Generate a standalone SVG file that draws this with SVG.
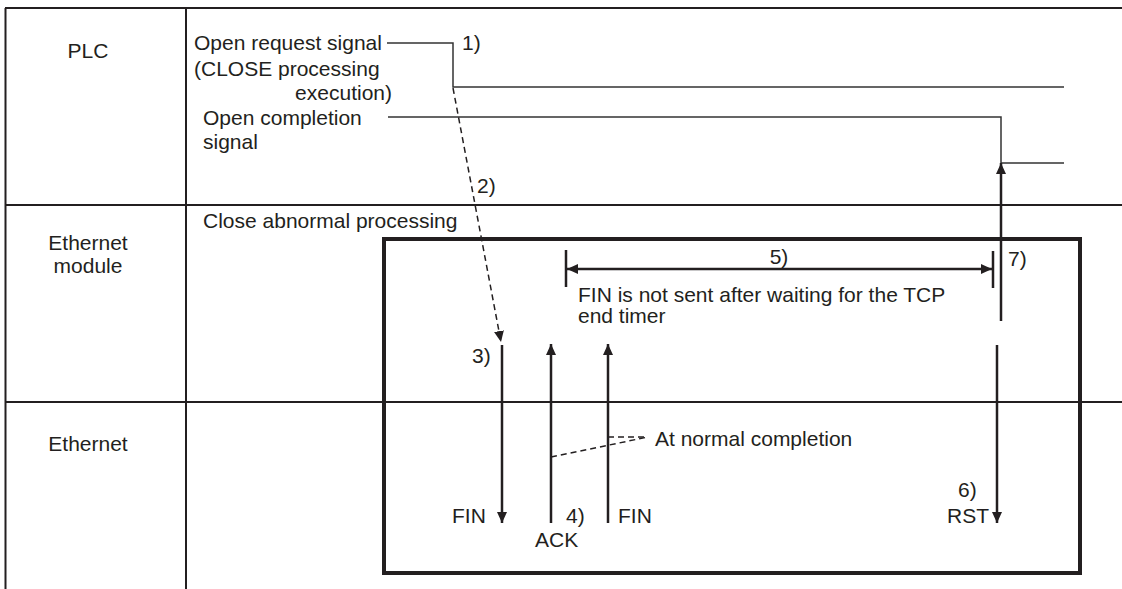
<svg xmlns="http://www.w3.org/2000/svg" width="1122" height="589" viewBox="0 0 1122 589">
<style>
text{font-family:"Liberation Sans",Arial,sans-serif;font-size:21px;fill:#231f20}
.grid{stroke:#231f20;stroke-width:2;fill:none}
.sig{stroke:#333;stroke-width:1.5;fill:none}
.arr{stroke:#231f20;stroke-width:2.5;fill:none}
.dash{stroke:#231f20;stroke-width:1.5;fill:none;stroke-dasharray:6 4}
.box{stroke:#231f20;stroke-width:4;fill:none}
.mid{text-anchor:middle}
.end{text-anchor:end}
</style>
<defs>
<marker id="ah" markerUnits="userSpaceOnUse" markerWidth="12" markerHeight="12" viewBox="0 0 12 12" refX="11" refY="6" orient="auto">
<path d="M0,1 L11,6 L0,11 z" fill="#231f20"/>
</marker>
</defs>
<rect width="1122" height="589" fill="#fff"/>
<g id="grid">
<line class="grid" x1="5" y1="8" x2="1122" y2="8"/>
<line class="grid" x1="5.5" y1="8" x2="5.5" y2="589"/>
<line class="grid" x1="186" y1="8" x2="186" y2="589"/>
<line class="grid" x1="5" y1="205" x2="1122" y2="205"/>
<line class="grid" x1="5" y1="402" x2="1122" y2="402"/>
</g>
<g id="lane-plc"><text class="mid" x="88" y="58">PLC</text></g>
<g id="lane-module"><text class="mid" x="88" y="250">Ethernet</text><text class="mid" x="88" y="273">module</text></g>
<g id="lane-ethernet"><text class="mid" x="88" y="451">Ethernet</text></g>
<g id="open-request">
<text x="194" y="50">Open request signal</text>
<text x="194" y="76">(CLOSE processing</text>
<text class="end" x="392" y="100">execution)</text>
<text x="462" y="50">1)</text>
</g>
<g id="open-completion">
<text x="203" y="125">Open completion</text>
<text x="203" y="149">signal</text>
</g>
<g id="close-box">
<rect class="box" x="384" y="239" width="696" height="334"/>
<text x="203" y="228">Close abnormal processing</text>
</g>
<g id="labels">
<text x="477" y="193">2)</text>
<text x="472" y="363">3)</text>
<text x="452" y="523">FIN</text>
<text x="566" y="523">4)</text>
<text x="535" y="547">ACK</text>
<text x="618" y="523">FIN</text>
<text class="mid" x="779" y="264">5)</text>
<text x="578" y="302">FIN is not sent after waiting for the TCP</text>
<text x="578" y="323">end timer</text>
<text x="655" y="446">At normal completion</text>
<text x="958" y="497">6)</text>
<text x="947" y="523">RST</text>
<text x="1008" y="266">7)</text>
</g>
<g id="connectors">
<polyline class="sig" points="387,43 453,43 453,87 1064,87"/>
<polyline class="sig" points="388,117 1001,117 1001,163 1064,163"/>
<line class="dash" x1="453" y1="88" x2="501" y2="342" marker-end="url(#ah)"/>
<line class="arr" x1="502" y1="345" x2="502" y2="523" marker-end="url(#ah)"/>
<line class="arr" x1="551" y1="523" x2="551" y2="344" marker-end="url(#ah)"/>
<line class="arr" x1="608" y1="523" x2="608" y2="344" marker-end="url(#ah)"/>
<line class="arr" x1="997" y1="345" x2="997" y2="523" marker-end="url(#ah)"/>
<line class="arr" x1="1001" y1="321" x2="1001" y2="163" marker-end="url(#ah)"/>
<line class="arr" x1="566" y1="250" x2="566" y2="287"/>
<line class="arr" x1="993" y1="251" x2="993" y2="288"/>
<line class="arr" x1="580" y1="269" x2="567" y2="269" marker-end="url(#ah)"/>
<line class="arr" x1="580" y1="269" x2="992" y2="269" marker-end="url(#ah)"/>
<line class="dash" x1="551" y1="457" x2="648" y2="437"/>
<line class="dash" x1="608" y1="437" x2="648" y2="437"/>
</g>
</svg>
